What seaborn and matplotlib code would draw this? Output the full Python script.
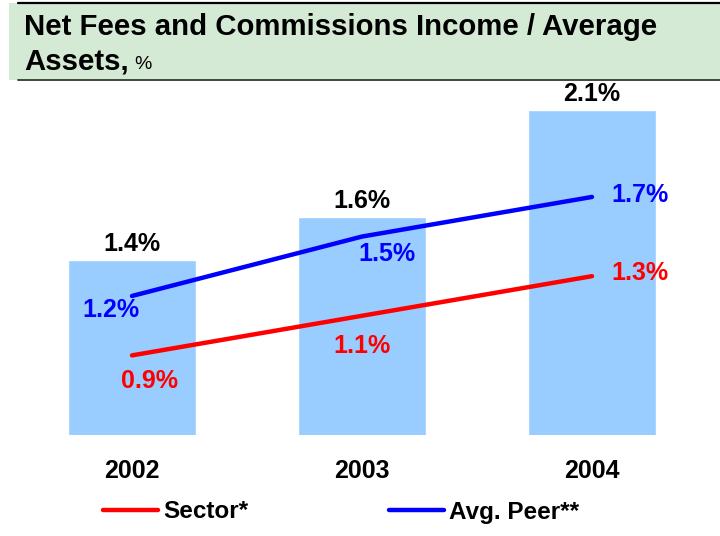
import matplotlib
matplotlib.use("Agg")
import matplotlib.pyplot as plt
from matplotlib.patches import Rectangle
from matplotlib.lines import Line2D
import numpy as np
import pandas as pd
import seaborn as sns

# Chart data
years = ["2002", "2003", "2004"]
bank_ratio = [1.4, 1.6, 2.1]
sector_ratio = [0.9, 1.1, 1.3]
peer_ratio = [1.2, 1.5, 1.7]
series_names = ["Sector*", "Avg. Peer**"]
title_line1 = "Net Fees and Commissions Income / Average"
title_line2 = "Assets,"
title_unit = "%"

sns.set_theme(style="white")
plt.rcParams["font.family"] = ["Liberation Sans", "DejaVu Sans"]
plt.rcParams["text.color"] = "black"

BAR_COLOR = "#99CCFF"
SECTOR_COLOR = "#FF0000"
PEER_COLOR = "#0000FF"
HEADER_GREEN = "#D5EAD5"
LABEL_SIZE = 18
TITLE_SIZE = 21.2

W, H = 720, 536
fig = plt.figure(figsize=(W / 100, H / 100), dpi=100)
fig.patch.set_facecolor("white")

# Header band with the title
fig.patches.append(Rectangle((9 / W, 1 - 80 / H), 1 - 9 / W, 77 / H,
                             transform=fig.transFigure, facecolor=HEADER_GREEN,
                             edgecolor="none", zorder=0))
fig.lines.append(Line2D([18 / W, 1], [1 - 2.5 / H, 1 - 2.5 / H],
                        transform=fig.transFigure, color="black", lw=1.6))
fig.lines.append(Line2D([18 / W, 1], [1 - 80 / H, 1 - 80 / H],
                        transform=fig.transFigure, color="#3C4A3C", lw=1.4))
fig.text(24 / W, 1 - 35 / H, title_line1, fontsize=TITLE_SIZE,
         fontweight="bold", ha="left", va="baseline", color="black")
t2 = fig.text(24 / W, 1 - 69 / H, title_line2, fontsize=TITLE_SIZE,
              fontweight="bold", ha="left", va="baseline", color="black")
renderer = fig.canvas.get_renderer()
bb = t2.get_window_extent(renderer=renderer)
fig.text((bb.x1 + 6) / W, 1 - 69 / H, title_unit, fontsize=14, ha="left",
         va="baseline", color="black")

# Plot area
ax = fig.add_axes([17 / W, 101 / H, 690 / W, 345 / H])
df = pd.DataFrame({"year": years, "bank": bank_ratio,
                   "sector": sector_ratio, "peer": peer_ratio})

sns.barplot(data=df, x="year", y="bank", color=BAR_COLOR, width=0.56,
            saturation=1, ax=ax, zorder=1)
ax.set_xlim(-0.5, 2.5)
ax.set_ylim(0.584, 2.195)

# Lines on their own scale
ax2 = ax.twinx()
xpos = np.arange(len(years))
sns.lineplot(x=xpos, y=df["sector"], color=SECTOR_COLOR, lw=3.2, ax=ax2,
             label=series_names[0], legend=False)
sns.lineplot(x=xpos, y=df["peer"], color=PEER_COLOR, lw=3.2, ax=ax2,
             label=series_names[1], legend=False)
ax2.set_ylim(0.498, 2.240)
ax2.set_xlim(-0.5, 2.5)

for a in (ax, ax2):
    for s in a.spines.values():
        s.set_visible(False)
    a.set_yticks([])
    a.set_ylabel("")
    a.set_xlabel("")
ax.set_xticks(xpos)
ax.set_xticklabels(years, fontsize=LABEL_SIZE, fontweight="bold",
                   color="black")
ax.tick_params(axis="x", length=0, pad=17)
ax2.tick_params(axis="x", length=0, labelbottom=False)

PX = 0.72  # points per pixel at 100 dpi

def label(axis, x, y, text, dx, dy, color):
    axis.annotate(text, (x, y), xytext=(dx * PX, dy * PX),
                  textcoords="offset points", ha="center", va="center",
                  fontsize=LABEL_SIZE, fontweight="bold", color=color)

for i, v in enumerate(bank_ratio):
    label(ax, i, v, f"{v:.1f}%", 0, 16, "black")

peer_offsets = [(-21, -14), (25, -17), (48, 2)]
sector_offsets = [(17, -26), (0, -30), (48, 3)]
for i, v in enumerate(peer_ratio):
    label(ax2, i, v, f"{v:.1f}%", *peer_offsets[i], PEER_COLOR)
for i, v in enumerate(sector_ratio):
    label(ax2, i, v, f"{v:.1f}%", *sector_offsets[i], SECTOR_COLOR)

handles, labels = ax2.get_legend_handles_labels()
fig.legend(handles, labels, loc="center left",
           bbox_to_anchor=(103 / W, 1 - 512 / H), ncol=2, frameon=False,
           prop={"weight": "bold", "size": 17.5}, labelcolor="black",
           handlelength=2.26, handletextpad=0.2, columnspacing=5.8,
           borderpad=0, borderaxespad=0)

fig.savefig("out.png", dpi=100)
